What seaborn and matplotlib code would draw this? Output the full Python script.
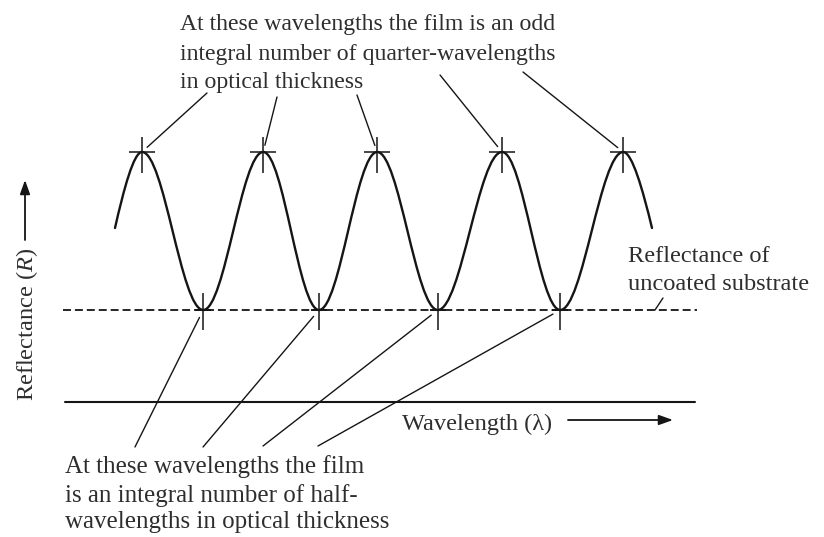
import matplotlib
matplotlib.use("Agg")
import matplotlib.pyplot as plt
from matplotlib.path import Path
from matplotlib.patches import PathPatch
import seaborn as sns
import pandas as pd

# ---------------- data (arbitrary wavelength / reflectance units) ----------------
peak_wl = [1.0, 3.02, 4.92, 7.0, 9.02]        # odd quarter-wave points (maxima)
min_wl = [2.02, 3.95, 5.93, 7.97]             # half-wave points (minima)
peak_R = 2.5
substrate_R = 0.92
curve_start = (0.55, 1.74)
curve_end = (9.5, 1.74)
axis_R = 0.0
substrate_line_wl = [-0.317, 10.25]
axis_line_wl = [-0.283, 10.217]

top_text = ["At these wavelengths the film is an odd",
            "integral number of quarter-wavelengths",
            "in optical thickness"]
bottom_text = ["At these wavelengths the film",
               "is an integral number of half-",
               "wavelengths in optical thickness"]
substrate_text = ["Reflectance of", "uncoated substrate"]
x_label = "Wavelength (\u03bb)"
y_label = r"Reflectance ($\it{R}$)"

# ---------------- style ----------------
sns.set_theme(style="white")
plt.rcParams["font.family"] = ["Liberation Serif", "DejaVu Serif"]
plt.rcParams["mathtext.fontset"] = "custom"
plt.rcParams["mathtext.rm"] = "Liberation Serif"
plt.rcParams["mathtext.it"] = "Liberation Serif:italic"
LINE = "#151515"
TXT = "#2e2e2e"
FS_TOP = 17.1
FS_BOT = 18.0
FS_LAB = 17.6

fig = plt.figure(figsize=(8.24, 5.37), dpi=100)
ax = fig.add_axes([0, 0, 1, 1])

# curve key points: start, alternating peaks/minima, end
xs = [curve_start[0]]
ys = [curve_start[1]]
for i in range(len(peak_wl)):
    xs.append(peak_wl[i]); ys.append(peak_R)
    if i < len(min_wl):
        xs.append(min_wl[i]); ys.append(substrate_R)
xs.append(curve_end[0]); ys.append(curve_end[1])

verts = [(xs[0], ys[0])]
codes = [Path.MOVETO]
n = len(xs) - 1
for i in range(n):
    x0, y0, x1, y1 = xs[i], ys[i], xs[i + 1], ys[i + 1]
    dx, dy = x1 - x0, y1 - y0
    if i == 0:
        c1 = (x0 + 0.326 * dx, y0 + 0.512 * dy)
        c2 = (x0 + 0.694 * dx, y1)
    elif i == n - 1:
        c1 = (x0 + 0.306 * dx, y0)
        c2 = (x0 + 0.674 * dx, y0 + 0.488 * dy)
    else:
        c1 = (x0 + 0.363 * dx, y0)
        c2 = (x1 - 0.363 * dx, y1)
    verts += [c1, c2, (x1, y1)]
    codes += [Path.CURVE4] * 3
ax.add_patch(PathPatch(Path(verts, codes), fill=False, lw=1.7, ec=LINE,
                       capstyle="round", zorder=3))

# reference lines via seaborn
sub_df = pd.DataFrame({"wl": substrate_line_wl, "R": [substrate_R] * 2})
axis_df = pd.DataFrame({"wl": axis_line_wl, "R": [axis_R] * 2})
sns.lineplot(data=sub_df, x="wl", y="R", ax=ax, color=LINE, lw=1.3,
             linestyle=(0, (4.4, 2.2)), zorder=2)
sns.lineplot(data=axis_df, x="wl", y="R", ax=ax, color=LINE, lw=1.5, zorder=2)
ax.set_xlim(-82 / 60, 742 / 60)
ax.set_ylim(-1.35, 4.02)
ax.axis("off")

# cross ticks at extrema
ax.vlines(peak_wl, peak_R - 0.21, peak_R + 0.15, color=LINE, lw=1.1, zorder=4)
ax.hlines([peak_R] * len(peak_wl), [p - 0.22 for p in peak_wl],
          [p + 0.22 for p in peak_wl], color=LINE, lw=1.1, zorder=4)
ax.vlines(min_wl, substrate_R - 0.20, substrate_R + 0.17, color=LINE, lw=1.1, zorder=4)
ax.hlines([substrate_R] * len(min_wl), [m - 0.13 for m in min_wl],
          [m + 0.13 for m in min_wl], color=LINE, lw=1.4, zorder=4)

# top annotation
for s, yb in zip(top_text, [3.72, 3.42, 3.14]):
    ax.text(1.633, yb, s, fontsize=FS_TOP, color=TXT, va="baseline", ha="left")
top_anchor = [(2.083, 3.09), (3.25, 3.05), (4.583, 3.07), (5.967, 3.27), (7.35, 3.30)]
for p, a in zip(peak_wl, top_anchor):
    ax.annotate("", xy=(p, peak_R), xytext=a,
                arrowprops=dict(arrowstyle="-", shrinkA=0, shrinkB=5,
                                lw=1.0, color=LINE))

# bottom annotation
for s, yb in zip(bottom_text, [-0.71, -1.00, -1.26]):
    ax.text(-0.283, yb, s, fontsize=FS_BOT, color=TXT, va="baseline", ha="left")
bot_anchor = [(0.883, -0.45), (2.017, -0.45), (3.017, -0.44), (3.933, -0.44)]
for m, a in zip(min_wl, bot_anchor):
    ax.annotate("", xy=(m, substrate_R), xytext=a,
                arrowprops=dict(arrowstyle="-", shrinkA=0, shrinkB=6,
                                lw=1.0, color=LINE))

# substrate label
for s, yb in zip(substrate_text, [1.40, 1.12]):
    ax.text(9.1, yb, s, fontsize=FS_LAB, color=TXT, va="baseline", ha="left")
ax.annotate("", xy=(9.55, substrate_R), xytext=(9.683, 1.04),
            arrowprops=dict(arrowstyle="-", shrinkA=0, shrinkB=0, lw=1.0, color=LINE))

# axis labels with arrows
ax.text(5.333, -0.28, x_label, fontsize=FS_LAB, color=TXT, va="baseline", ha="left")
ax.annotate("", xy=(9.85, -0.18), xytext=(8.1, -0.18),
            arrowprops=dict(arrowstyle="-|>,head_length=0.7,head_width=0.25",
                            lw=1.3, color=LINE, shrinkA=0, shrinkB=0))
ax.text(-0.917, 0.78, y_label, fontsize=FS_LAB, color=TXT, rotation=90,
        ha="center", va="center")
ax.annotate("", xy=(-0.95, 2.22), xytext=(-0.95, 1.62),
            arrowprops=dict(arrowstyle="-|>,head_length=0.7,head_width=0.25",
                            lw=1.3, color=LINE, shrinkA=0, shrinkB=0))

fig.savefig("out.png", dpi=100, facecolor="white")
